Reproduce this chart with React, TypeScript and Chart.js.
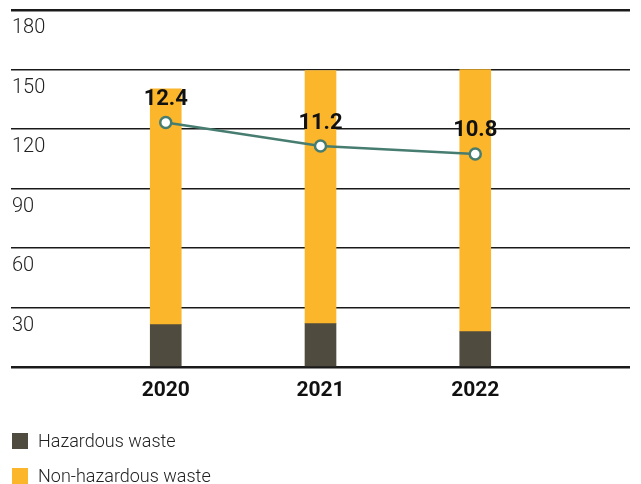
import React, { useEffect, useRef } from "react";
import { Chart, registerables } from "chart.js";

Chart.register(...registerables);

const years = ["2020", "2021", "2022"];
const hazardous = [21.4, 21.9, 17.8];
const nonHazardous = [118.8, 127.6, 132.2];
const intensity = [12.4, 11.2, 10.8];
const yTickLabels = [30, 60, 90, 120, 150, 180];
const legendLabels = ["Hazardous waste", "Non-hazardous waste"];
const colors = { hazardous: "#4f4b3f", nonHazardous: "#fbb62b", line: "#477d70" };

const FONT = "Roboto, 'Noto Sans', sans-serif";

export default function App() {
  const ref = useRef<HTMLCanvasElement | null>(null);

  useEffect(() => {
    if (!ref.current) return;
    const pad = (a: number[]) => [null, ...a, null];
    const labels = ["", ...years, ""];

    const overlay = {
      id: "overlay",
      afterDraw(chart: any) {
        const ctx = chart.ctx;
        const y = chart.scales.y;
        ctx.save();
        ctx.fillStyle = "#222";
        ctx.font = `300 20px ${FONT}`;
        ctx.textAlign = "left";
        ctx.textBaseline = "middle";
        yTickLabels.forEach((v) => {
          ctx.fillText(String(v), 12, y.getPixelForValue(v) + 18);
        });
        const meta = chart.getDatasetMeta(2);
        ctx.fillStyle = "#111";
        ctx.font = `bold 22px ${FONT}`;
        ctx.textAlign = "center";
        meta.data.forEach((pt: any, i: number) => {
          const v = chart.data.datasets[2].data[i];
          if (v == null) return;
          ctx.fillText(Number(v).toFixed(1), pt.x, pt.y - 23);
        });
        ctx.restore();
      },
    };

    const chart = new Chart(ref.current, {
      type: "bar",
      data: {
        labels,
        datasets: [
          {
            type: "bar",
            label: legendLabels[0],
            data: pad(hazardous),
            backgroundColor: colors.hazardous,
            barThickness: 31,
            order: 2,
            yAxisID: "y",
          },
          {
            type: "bar",
            label: legendLabels[1],
            data: pad(nonHazardous),
            backgroundColor: colors.nonHazardous,
            barThickness: 31,
            order: 2,
            yAxisID: "y",
          },
          {
            type: "line",
            label: "Intensity",
            data: pad(intensity),
            borderColor: colors.line,
            borderWidth: 2.5,
            pointRadius: 5.5,
            pointBorderWidth: 2.5,
            pointBackgroundColor: "#ffffff",
            pointBorderColor: colors.line,
            order: 0,
            yAxisID: "y2",
            spanGaps: false,
          } as any,
        ],
      },
      options: {
        responsive: false,
        animation: false,
        layout: { padding: { left: 10, right: 11, top: 10, bottom: 0 } },
        plugins: { legend: { display: false }, tooltip: { enabled: false } },
        scales: {
          x: {
            type: "category",
            offset: false,
            stacked: true,
            grid: { display: false, drawTicks: false },
            border: { display: false },
            ticks: {
              color: "#111",
              font: { family: FONT, size: 21, weight: "bold" },
              padding: 11,
              maxRotation: 0,
              autoSkip: false,
            },
            afterFit: (s: any) => {
              s.height = 117;
            },
          },
          y: {
            stacked: true,
            min: 0,
            max: 180,
            ticks: { display: false, stepSize: 30 },
            border: { display: false },
            grid: {
              drawTicks: false,
              color: "#1a1a1a",
              lineWidth: (c: any) =>
                c.tick && (c.tick.value === 0 || c.tick.value === 180) ? 2.4 : 1.4,
            },
            afterFit: (s: any) => {
              s.width = 0;
            },
          },
          y2: {
            display: false,
            min: 0,
            max: 18.1,
          },
        },
      },
      plugins: [overlay],
    });
    return () => chart.destroy();
  }, []);

  const sq = (c: string, top: number) => (
    <div style={{ position: "absolute", left: 12, top, width: 16, height: 16, background: c }} />
  );
  const txt = (t: string, top: number) => (
    <div
      style={{
        position: "absolute",
        left: 38,
        top,
        font: `300 18px ${FONT}`,
        color: "#222",
        lineHeight: "20px",
        whiteSpace: "nowrap",
      }}
    >
      {t}
    </div>
  );

  return (
    <div style={{ position: "absolute", left: 0, top: 0, width: 641, height: 484, background: "#fff" }}>
      <canvas ref={ref} width={641} height={484} style={{ width: 641, height: 484, display: "block" }} />
      {sq(colors.hazardous, 433)}
      {txt(legendLabels[0], 431)}
      {sq(colors.nonHazardous, 468)}
      {txt(legendLabels[1], 466)}
    </div>
  );
}
